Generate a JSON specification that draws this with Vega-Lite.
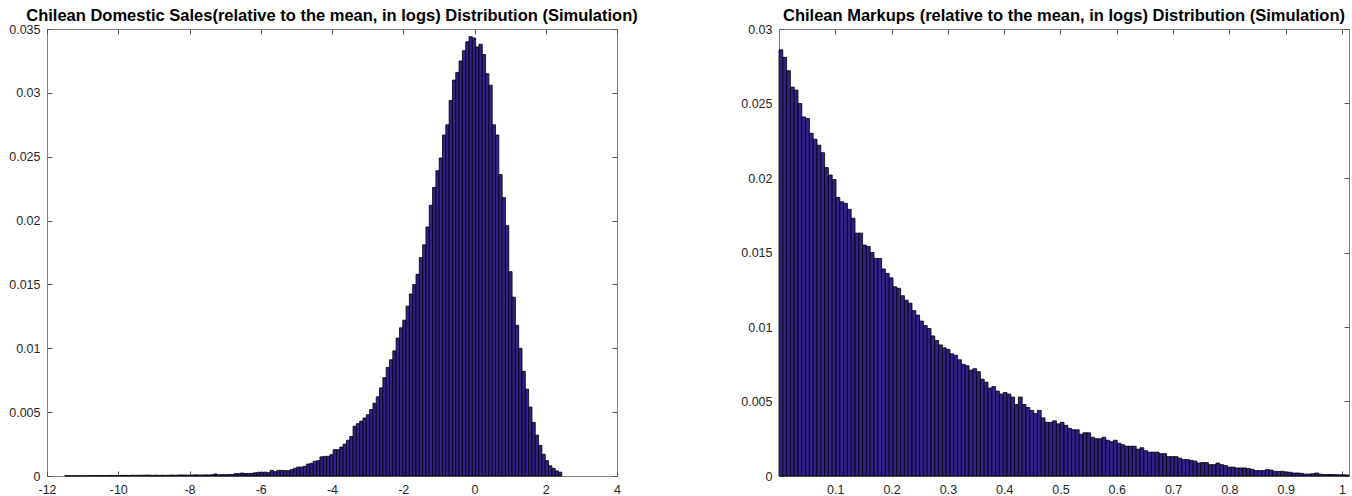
{
"$schema": "https://vega.github.io/schema/vega-lite/v6.json",
"background": "white",
"padding": {"left": 8, "top": 7, "right": 0, "bottom": 0},
"bounds": "flush",
"spacing": 162,
"datasets": {
"sales": [
{"a":-11.5,"b":-11.407,"p":0.00003},{"a":-11.407,"b":-11.314,"p":0.00002},{"a":-11.314,"b":-11.221,"p":0.00002},{"a":-11.221,"b":-11.128,"p":0.00003},{"a":-11.128,"b":-11.035,"p":0.00002},
{"a":-11.035,"b":-10.942,"p":0.00003},{"a":-10.942,"b":-10.849,"p":0.00002},{"a":-10.849,"b":-10.756,"p":0.00003},{"a":-10.756,"b":-10.663,"p":0.00004},{"a":-10.663,"b":-10.57,"p":0.00003},
{"a":-10.57,"b":-10.477,"p":0.00003},{"a":-10.477,"b":-10.384,"p":0.00004},{"a":-10.384,"b":-10.291,"p":0.00003},{"a":-10.291,"b":-10.198,"p":0.00004},{"a":-10.198,"b":-10.105,"p":0.00005},
{"a":-10.105,"b":-10.012,"p":0.00004},{"a":-10.012,"b":-9.919,"p":0.00004},{"a":-9.919,"b":-9.826,"p":0.00005},{"a":-9.826,"b":-9.733,"p":0.00005},{"a":-9.733,"b":-9.64,"p":0.00004},
{"a":-9.64,"b":-9.547,"p":0.00006},{"a":-9.547,"b":-9.454,"p":0.00005},{"a":-9.454,"b":-9.361,"p":0.00006},{"a":-9.361,"b":-9.268,"p":0.00006},{"a":-9.268,"b":-9.175,"p":0.00007},
{"a":-9.175,"b":-9.082,"p":0.00007},{"a":-9.082,"b":-8.989,"p":0.00005},{"a":-8.989,"b":-8.896,"p":0.00006},{"a":-8.896,"b":-8.803,"p":0.00005},{"a":-8.803,"b":-8.71,"p":0.00006},
{"a":-8.71,"b":-8.617,"p":0.00005},{"a":-8.617,"b":-8.524,"p":0.00006},{"a":-8.524,"b":-8.431,"p":0.00007},{"a":-8.431,"b":-8.338,"p":0.00006},{"a":-8.338,"b":-8.245,"p":0.00008},
{"a":-8.245,"b":-8.152,"p":0.00008},{"a":-8.152,"b":-8.059,"p":0.00008},{"a":-8.059,"b":-7.966,"p":0.00007},{"a":-7.966,"b":-7.873,"p":0.00008},{"a":-7.873,"b":-7.78,"p":0.00009},
{"a":-7.78,"b":-7.687,"p":0.00008},{"a":-7.687,"b":-7.594,"p":0.00008},{"a":-7.594,"b":-7.501,"p":0.00009},{"a":-7.501,"b":-7.408,"p":0.00008},{"a":-7.408,"b":-7.315,"p":0.0001},
{"a":-7.315,"b":-7.222,"p":0.00016},{"a":-7.222,"b":-7.129,"p":0.0001},{"a":-7.129,"b":-7.036,"p":0.00011},{"a":-7.036,"b":-6.943,"p":0.0001},{"a":-6.943,"b":-6.85,"p":0.00012},
{"a":-6.85,"b":-6.757,"p":0.00011},{"a":-6.757,"b":-6.664,"p":0.00018},{"a":-6.664,"b":-6.571,"p":0.00018},{"a":-6.571,"b":-6.478,"p":0.00023},{"a":-6.478,"b":-6.385,"p":0.0002},
{"a":-6.385,"b":-6.292,"p":0.0002},{"a":-6.292,"b":-6.199,"p":0.00021},{"a":-6.199,"b":-6.106,"p":0.00025},{"a":-6.106,"b":-6.013,"p":0.00029},{"a":-6.013,"b":-5.92,"p":0.00029},
{"a":-5.92,"b":-5.827,"p":0.0003},{"a":-5.827,"b":-5.734,"p":0.00026},{"a":-5.734,"b":-5.641,"p":0.00044},{"a":-5.641,"b":-5.548,"p":0.00034},{"a":-5.548,"b":-5.455,"p":0.00044},
{"a":-5.455,"b":-5.362,"p":0.00044},{"a":-5.362,"b":-5.269,"p":0.00042},{"a":-5.269,"b":-5.176,"p":0.00042},{"a":-5.176,"b":-5.083,"p":0.0005},{"a":-5.083,"b":-4.99,"p":0.0006},
{"a":-4.99,"b":-4.897,"p":0.0007},{"a":-4.897,"b":-4.804,"p":0.0007},{"a":-4.804,"b":-4.711,"p":0.00076},{"a":-4.711,"b":-4.618,"p":0.00094},{"a":-4.618,"b":-4.525,"p":0.001},
{"a":-4.525,"b":-4.432,"p":0.00115},{"a":-4.432,"b":-4.339,"p":0.0012},{"a":-4.339,"b":-4.246,"p":0.0015},{"a":-4.246,"b":-4.153,"p":0.00154},{"a":-4.153,"b":-4.06,"p":0.00154},
{"a":-4.06,"b":-3.967,"p":0.00167},{"a":-3.967,"b":-3.874,"p":0.00206},{"a":-3.874,"b":-3.781,"p":0.00206},{"a":-3.781,"b":-3.688,"p":0.00227},{"a":-3.688,"b":-3.595,"p":0.0025},
{"a":-3.595,"b":-3.502,"p":0.0028},{"a":-3.502,"b":-3.409,"p":0.0031},{"a":-3.409,"b":-3.316,"p":0.0039},{"a":-3.316,"b":-3.223,"p":0.0041},{"a":-3.223,"b":-3.13,"p":0.0043},
{"a":-3.13,"b":-3.037,"p":0.00454},{"a":-3.037,"b":-2.944,"p":0.0048},{"a":-2.944,"b":-2.851,"p":0.0052},{"a":-2.851,"b":-2.758,"p":0.0057},{"a":-2.758,"b":-2.665,"p":0.0062},
{"a":-2.665,"b":-2.572,"p":0.0069},{"a":-2.572,"b":-2.479,"p":0.0077},{"a":-2.479,"b":-2.386,"p":0.0085},{"a":-2.386,"b":-2.293,"p":0.0091},{"a":-2.293,"b":-2.2,"p":0.0098},
{"a":-2.2,"b":-2.107,"p":0.0108},{"a":-2.107,"b":-2.014,"p":0.0116},{"a":-2.014,"b":-1.921,"p":0.0122},{"a":-1.921,"b":-1.828,"p":0.0133},{"a":-1.828,"b":-1.735,"p":0.01425},
{"a":-1.735,"b":-1.642,"p":0.015},{"a":-1.642,"b":-1.549,"p":0.0158},{"a":-1.549,"b":-1.456,"p":0.0171},{"a":-1.456,"b":-1.363,"p":0.0181},{"a":-1.363,"b":-1.27,"p":0.0195},
{"a":-1.27,"b":-1.177,"p":0.0212},{"a":-1.177,"b":-1.084,"p":0.0226},{"a":-1.084,"b":-0.991,"p":0.0239},{"a":-0.991,"b":-0.898,"p":0.0249},{"a":-0.898,"b":-0.805,"p":0.0267},
{"a":-0.805,"b":-0.712,"p":0.0275},{"a":-0.712,"b":-0.619,"p":0.0294},{"a":-0.619,"b":-0.526,"p":0.031},{"a":-0.526,"b":-0.433,"p":0.0316},{"a":-0.433,"b":-0.34,"p":0.0325},
{"a":-0.34,"b":-0.247,"p":0.0333},{"a":-0.247,"b":-0.154,"p":0.034},{"a":-0.154,"b":-0.061,"p":0.0344},{"a":-0.061,"b":0.032,"p":0.0343},{"a":0.032,"b":0.125,"p":0.0336},
{"a":0.125,"b":0.218,"p":0.0338},{"a":0.218,"b":0.311,"p":0.033},{"a":0.311,"b":0.404,"p":0.0315},{"a":0.404,"b":0.497,"p":0.0306},{"a":0.497,"b":0.59,"p":0.0275},
{"a":0.59,"b":0.683,"p":0.0267},{"a":0.683,"b":0.776,"p":0.0236},{"a":0.776,"b":0.869,"p":0.0218},{"a":0.869,"b":0.962,"p":0.0196},{"a":0.962,"b":1.055,"p":0.016},
{"a":1.055,"b":1.148,"p":0.014},{"a":1.148,"b":1.241,"p":0.0118},{"a":1.241,"b":1.334,"p":0.01},{"a":1.334,"b":1.427,"p":0.0082},{"a":1.427,"b":1.52,"p":0.0068},
{"a":1.52,"b":1.613,"p":0.0054},{"a":1.613,"b":1.706,"p":0.0042},{"a":1.706,"b":1.799,"p":0.0032},{"a":1.799,"b":1.892,"p":0.0024},{"a":1.892,"b":1.985,"p":0.0017},
{"a":1.985,"b":2.078,"p":0.0012},{"a":2.078,"b":2.171,"p":0.0008},{"a":2.171,"b":2.264,"p":0.0006},{"a":2.264,"b":2.357,"p":0.0004},{"a":2.357,"b":2.45,"p":0.0003}
],
"markups": [
{"a":0,"b":0.00675,"p":0.0286},{"a":0.00675,"b":0.0135,"p":0.0281},{"a":0.0135,"b":0.02025,"p":0.0272},{"a":0.02025,"b":0.027,"p":0.0261},{"a":0.027,"b":0.03375,"p":0.0259},
{"a":0.03375,"b":0.0405,"p":0.025},{"a":0.0405,"b":0.04725,"p":0.0241},{"a":0.04725,"b":0.054,"p":0.024},{"a":0.054,"b":0.06075,"p":0.023},{"a":0.06075,"b":0.0675,"p":0.0226},
{"a":0.0675,"b":0.07425,"p":0.0222},{"a":0.07425,"b":0.081,"p":0.0217},{"a":0.081,"b":0.08775,"p":0.0207},{"a":0.08775,"b":0.0945,"p":0.0202},{"a":0.0945,"b":0.10125,"p":0.0199},
{"a":0.10125,"b":0.108,"p":0.0187},{"a":0.108,"b":0.11475,"p":0.0184},{"a":0.11475,"b":0.1215,"p":0.0183},{"a":0.1215,"b":0.12825,"p":0.0179},{"a":0.12825,"b":0.135,"p":0.0173},
{"a":0.135,"b":0.14175,"p":0.0163},{"a":0.14175,"b":0.1485,"p":0.0163},{"a":0.1485,"b":0.15525,"p":0.0155},{"a":0.15525,"b":0.162,"p":0.0154},{"a":0.162,"b":0.16875,"p":0.015},
{"a":0.16875,"b":0.1755,"p":0.0146},{"a":0.1755,"b":0.18225,"p":0.0146},{"a":0.18225,"b":0.189,"p":0.0139},{"a":0.189,"b":0.19575,"p":0.0136},{"a":0.19575,"b":0.2025,"p":0.0133},
{"a":0.2025,"b":0.20925,"p":0.0127},{"a":0.20925,"b":0.216,"p":0.0126},{"a":0.216,"b":0.22275,"p":0.0121},{"a":0.22275,"b":0.2295,"p":0.0118},{"a":0.2295,"b":0.23625,"p":0.0116},
{"a":0.23625,"b":0.243,"p":0.0111},{"a":0.243,"b":0.24975,"p":0.0108},{"a":0.24975,"b":0.2565,"p":0.0104},{"a":0.2565,"b":0.26325,"p":0.0101},{"a":0.26325,"b":0.27,"p":0.0099},
{"a":0.27,"b":0.27675,"p":0.0094},{"a":0.27675,"b":0.2835,"p":0.0091},{"a":0.2835,"b":0.29025,"p":0.0088},{"a":0.29025,"b":0.297,"p":0.0086},{"a":0.297,"b":0.30375,"p":0.0085},
{"a":0.30375,"b":0.3105,"p":0.0082},{"a":0.3105,"b":0.31725,"p":0.0081},{"a":0.31725,"b":0.324,"p":0.0078},{"a":0.324,"b":0.33075,"p":0.0075},{"a":0.33075,"b":0.3375,"p":0.0074},
{"a":0.3375,"b":0.34425,"p":0.0071},{"a":0.34425,"b":0.351,"p":0.0072},{"a":0.351,"b":0.35775,"p":0.007},{"a":0.35775,"b":0.3645,"p":0.0065},{"a":0.3645,"b":0.37125,"p":0.0063},
{"a":0.37125,"b":0.378,"p":0.0059},{"a":0.378,"b":0.38475,"p":0.006},{"a":0.38475,"b":0.3915,"p":0.0057},{"a":0.3915,"b":0.39825,"p":0.0055},{"a":0.39825,"b":0.405,"p":0.0056},
{"a":0.405,"b":0.41175,"p":0.0055},{"a":0.41175,"b":0.4185,"p":0.0053},{"a":0.4185,"b":0.42525,"p":0.0048},{"a":0.42525,"b":0.432,"p":0.0053},{"a":0.432,"b":0.43875,"p":0.0048},
{"a":0.43875,"b":0.4455,"p":0.0046},{"a":0.4455,"b":0.45225,"p":0.0044},{"a":0.45225,"b":0.459,"p":0.0042},{"a":0.459,"b":0.46575,"p":0.0044},{"a":0.46575,"b":0.4725,"p":0.0039},
{"a":0.4725,"b":0.47925,"p":0.0036},{"a":0.47925,"b":0.486,"p":0.0036},{"a":0.486,"b":0.49275,"p":0.0037},{"a":0.49275,"b":0.4995,"p":0.0035},{"a":0.4995,"b":0.50625,"p":0.0036},
{"a":0.50625,"b":0.513,"p":0.0034},{"a":0.513,"b":0.51975,"p":0.0032},{"a":0.51975,"b":0.5265,"p":0.0031},{"a":0.5265,"b":0.53325,"p":0.0031},{"a":0.53325,"b":0.54,"p":0.0028},
{"a":0.54,"b":0.54675,"p":0.0029},{"a":0.54675,"b":0.5535,"p":0.0029},{"a":0.5535,"b":0.56025,"p":0.0026},{"a":0.56025,"b":0.567,"p":0.0025},{"a":0.567,"b":0.57375,"p":0.0025},
{"a":0.57375,"b":0.5805,"p":0.0026},{"a":0.5805,"b":0.58725,"p":0.0024},{"a":0.58725,"b":0.594,"p":0.0023},{"a":0.594,"b":0.60075,"p":0.0024},{"a":0.60075,"b":0.6075,"p":0.0022},
{"a":0.6075,"b":0.61425,"p":0.0021},{"a":0.61425,"b":0.621,"p":0.002},{"a":0.621,"b":0.62775,"p":0.002},{"a":0.62775,"b":0.6345,"p":0.002},{"a":0.6345,"b":0.64125,"p":0.0018},
{"a":0.64125,"b":0.648,"p":0.0019},{"a":0.648,"b":0.65475,"p":0.0017},{"a":0.65475,"b":0.6615,"p":0.0016},{"a":0.6615,"b":0.66825,"p":0.0016},{"a":0.66825,"b":0.675,"p":0.0016},
{"a":0.675,"b":0.68175,"p":0.0015},{"a":0.68175,"b":0.6885,"p":0.0015},{"a":0.6885,"b":0.69525,"p":0.0013},{"a":0.69525,"b":0.702,"p":0.0013},{"a":0.702,"b":0.70875,"p":0.0013},
{"a":0.70875,"b":0.7155,"p":0.0012},{"a":0.7155,"b":0.72225,"p":0.0011},{"a":0.72225,"b":0.729,"p":0.0011},{"a":0.729,"b":0.73575,"p":0.00105},{"a":0.73575,"b":0.7425,"p":0.001},
{"a":0.7425,"b":0.74925,"p":0.00087},{"a":0.74925,"b":0.756,"p":0.0009},{"a":0.756,"b":0.76275,"p":0.0009},{"a":0.76275,"b":0.7695,"p":0.00076},{"a":0.7695,"b":0.77625,"p":0.00076},
{"a":0.77625,"b":0.783,"p":0.00087},{"a":0.783,"b":0.78975,"p":0.00076},{"a":0.78975,"b":0.7965,"p":0.0007},{"a":0.7965,"b":0.80325,"p":0.0006},{"a":0.80325,"b":0.81,"p":0.0006},
{"a":0.81,"b":0.81675,"p":0.00054},{"a":0.81675,"b":0.8235,"p":0.00054},{"a":0.8235,"b":0.83025,"p":0.00054},{"a":0.83025,"b":0.837,"p":0.0005},{"a":0.837,"b":0.84375,"p":0.00045},
{"a":0.84375,"b":0.8505,"p":0.00036},{"a":0.8505,"b":0.85725,"p":0.00036},{"a":0.85725,"b":0.864,"p":0.00036},{"a":0.864,"b":0.87075,"p":0.00043},{"a":0.87075,"b":0.8775,"p":0.0004},
{"a":0.8775,"b":0.88425,"p":0.00031},{"a":0.88425,"b":0.891,"p":0.00031},{"a":0.891,"b":0.89775,"p":0.00031},{"a":0.89775,"b":0.9045,"p":0.00027},{"a":0.9045,"b":0.91125,"p":0.00025},
{"a":0.91125,"b":0.918,"p":0.0002},{"a":0.918,"b":0.92475,"p":0.0002},{"a":0.92475,"b":0.9315,"p":0.00018},{"a":0.9315,"b":0.93825,"p":0.00013},{"a":0.93825,"b":0.945,"p":0.00013},
{"a":0.945,"b":0.95175,"p":0.00015},{"a":0.95175,"b":0.9585,"p":0.0002},{"a":0.9585,"b":0.96525,"p":0.00012},{"a":0.96525,"b":0.972,"p":0.0001},{"a":0.972,"b":0.97875,"p":0.0001},
{"a":0.97875,"b":0.9855,"p":0.0001},{"a":0.9855,"b":0.99225,"p":0.00009},{"a":0.99225,"b":0.999,"p":0.00008},{"a":0.999,"b":1.00575,"p":0.00008},{"a":1.00575,"b":1.0125,"p":0.00007}
]
},
"hconcat": [
{
"width": 570, "height": 447,
"title": "Chilean Domestic Sales(relative to the mean, in logs) Distribution (Simulation)",
"data": {"name": "sales"},
"resolve": {"axis": {"x": "independent", "y": "independent"}},
"layer": [
{
"mark": {"type": "bar", "fill": "#30208a", "stroke": "#000000", "strokeWidth": 0.8},
"encoding": {
"x": {"field": "a", "type": "quantitative", "scale": {"domain": [-12, 4], "nice": false, "zero": false},
"axis": {"values": [-12, -10, -8, -6, -4, -2, 0, 2, 4], "labelExpr": "'' + datum.value", "title": null}},
"x2": {"field": "b"},
"y": {"field": "p", "type": "quantitative", "scale": {"domain": [0, 0.035], "nice": false},
"axis": {"values": [0, 0.005, 0.01, 0.015, 0.02, 0.025, 0.03, 0.035], "format": "~g", "title": null}},
"y2": {"datum": 0}
}
},
{
"mark": {"type": "point", "opacity": 0},
"encoding": {
"x": {"field": "a", "type": "quantitative", "axis": {"orient": "top", "values": [-12, -10, -8, -6, -4, -2, 0, 2, 4], "labels": false, "title": null}},
"y": {"field": "p", "type": "quantitative", "axis": {"orient": "right", "values": [0, 0.005, 0.01, 0.015, 0.02, 0.025, 0.03, 0.035], "labels": false, "title": null}}
}
}
]
},
{
"width": 570, "height": 447,
"title": "Chilean Markups (relative to the mean, in logs) Distribution (Simulation)",
"data": {"name": "markups"},
"resolve": {"axis": {"x": "independent", "y": "independent"}},
"layer": [
{
"mark": {"type": "bar", "fill": "#30208a", "stroke": "#000000", "strokeWidth": 0.8},
"encoding": {
"x": {"field": "a", "type": "quantitative", "scale": {"domain": [0, 1.0125], "nice": false, "zero": false},
"axis": {"values": [0.1, 0.2, 0.3, 0.4, 0.5, 0.6, 0.7, 0.8, 0.9, 1], "labelExpr": "'' + datum.value", "title": null}},
"x2": {"field": "b"},
"y": {"field": "p", "type": "quantitative", "scale": {"domain": [0, 0.03], "nice": false},
"axis": {"values": [0, 0.005, 0.01, 0.015, 0.02, 0.025, 0.03], "format": "~g", "title": null}},
"y2": {"datum": 0}
}
},
{
"mark": {"type": "point", "opacity": 0},
"encoding": {
"x": {"field": "a", "type": "quantitative", "axis": {"orient": "top", "values": [0.1, 0.2, 0.3, 0.4, 0.5, 0.6, 0.7, 0.8, 0.9, 1], "labels": false, "title": null}},
"y": {"field": "p", "type": "quantitative", "axis": {"orient": "right", "values": [0, 0.005, 0.01, 0.015, 0.02, 0.025, 0.03], "labels": false, "title": null}}
}
}
]
}
],
"config": {
"view": {"stroke": "#808080", "strokeWidth": 1},
"font": "Liberation Sans",
"title": {"font": "Liberation Sans", "fontSize": 16.5, "fontWeight": "bold", "color": "#000000", "offset": -1, "anchor": "middle"},
"axis": {"domain": false, "grid": false, "ticks": true, "tickSize": -5, "tickColor": "#555555", "tickWidth": 1,
"labelFont": "Liberation Sans", "labelFontSize": 12.5, "labelColor": "#262626", "labelPadding": 12,
"labelFlush": false, "labelOverlap": false, "labelBound": false}
}
}
